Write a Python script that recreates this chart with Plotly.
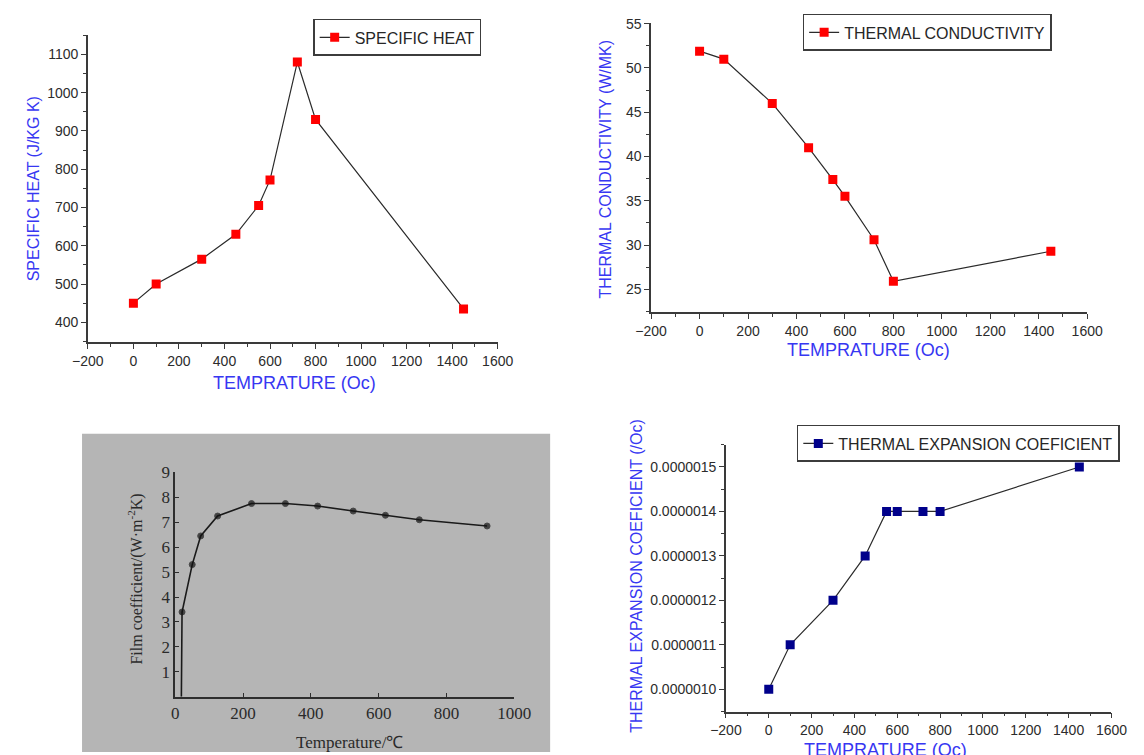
import plotly.graph_objects as go

W, H = 1144, 755

# Specific heat (J/kg K) against temperature (°C)
sh_temp = [0, 100, 300, 450, 550, 600, 720, 800, 1450]
sh_value = [450, 500, 565, 630, 705, 772, 1080, 930, 435]

# Thermal conductivity (W/mK) against temperature (°C)
tc_temp = [0, 100, 300, 450, 550, 600, 720, 800, 1450]
tc_value = [51.9, 51.0, 46.0, 41.0, 37.4, 35.5, 30.6, 25.9, 29.3]

# Film coefficient (W·m-2K) against temperature (°C); first point is the curve foot
fc_temp = [18, 20, 50, 75, 125, 225, 325, 420, 525, 620, 720, 920]
fc_value = [0, 3.4, 5.3, 6.45, 7.25, 7.75, 7.75, 7.65, 7.45, 7.28, 7.1, 6.85]

# Thermal expansion coefficient (/°C) against temperature (°C)
te_temp = [0, 100, 300, 450, 550, 600, 720, 800, 1450]
te_value = [1.0e-6, 1.1e-6, 1.2e-6, 1.3e-6, 1.4e-6, 1.4e-6, 1.4e-6, 1.4e-6, 1.5e-6]

# Tick values and labels
temp_ticks = [-200, 0, 200, 400, 600, 800, 1000, 1200, 1400, 1600]
sh_ticks = [400, 500, 600, 700, 800, 900, 1000, 1100]
tc_ticks = [25, 30, 35, 40, 45, 50, 55]
te_ticks = [1.0e-6, 1.1e-6, 1.2e-6, 1.3e-6, 1.4e-6, 1.5e-6]
te_ticktext = ["0.0000010", "0.0000011", "0.0000012", "0.0000013", "0.0000014", "0.0000015"]
fc_x_ticks = [0, 200, 400, 600, 800, 1000]
fc_y_ticks = [1, 2, 3, 4, 5, 6, 7, 8, 9]

SANS = "Liberation Sans, Arial, sans-serif"
SERIF = "Liberation Serif, Times New Roman, serif"
BLUE = "#3737f2"
AXIS = "#3a3a3a"
TICKTXT = "#2c2c2c"


def px(x):
    return x / W


def py(y):
    return 1 - y / H


fig = go.Figure()

fig.add_trace(go.Scatter(
    x=sh_temp, y=sh_value, mode="lines+markers", name="SPECIFIC HEAT",
    line=dict(color="#2b2b2b", width=1.2),
    marker=dict(symbol="square", size=9, color="#ff0000"),
    xaxis="x", yaxis="y", legend="legend"))

fig.add_trace(go.Scatter(
    x=tc_temp, y=tc_value, mode="lines+markers", name="THERMAL CONDUCTIVITY",
    line=dict(color="#2b2b2b", width=1.2),
    marker=dict(symbol="square", size=9, color="#ff0000"),
    xaxis="x2", yaxis="y2", legend="legend2"))

fig.add_trace(go.Scatter(
    x=fc_temp, y=fc_value, mode="lines+markers", name="Film coefficient",
    line=dict(color="#1a1a1a", width=1.6),
    marker=dict(symbol="circle", size=[0] + [6] * (len(fc_temp) - 1), color="#111111"),
    xaxis="x3", yaxis="y3", showlegend=False))

fig.add_trace(go.Scatter(
    x=te_temp, y=te_value, mode="lines+markers", name="THERMAL EXPANSION COEFICIENT",
    line=dict(color="#2b2b2b", width=1.2),
    marker=dict(symbol="square", size=9, color="#00008b"),
    xaxis="x4", yaxis="y4", legend="legend3"))


def origin_axis(domain, rng, tickvals, minor_dtick, anchor, ticktext=None):
    ax = dict(
        domain=domain, range=rng, anchor=anchor,
        tickmode="array", tickvals=tickvals,
        showline=True, linecolor=AXIS, linewidth=1.5,
        ticks="outside", ticklen=5, tickwidth=1.3, tickcolor=AXIS,
        minor=dict(ticks="outside", ticklen=3, tickwidth=1.1, tickcolor=AXIS,
                   dtick=minor_dtick, tick0=0, showgrid=False),
        showgrid=False, zeroline=False,
        tickfont=dict(family=SANS, size=14, color=TICKTXT),
    )
    if ticktext is not None:
        ax["ticktext"] = ticktext
    return ax


def film_axis(domain, rng, tickvals, anchor):
    return dict(
        domain=domain, range=rng, anchor=anchor,
        tickmode="array", tickvals=tickvals,
        showline=True, linecolor="#2e2e2e", linewidth=1.6,
        ticks="inside", ticklen=4, tickwidth=1.3, tickcolor="#2e2e2e",
        showgrid=False, zeroline=False,
        tickfont=dict(family=SERIF, size=17, color="#2a2a2a"),
    )


layout_axes = dict(
    xaxis=origin_axis([px(74), px(496)], [-200, 1600], temp_ticks, 100, "y"),
    yaxis=origin_axis([py(337), py(26)], [348.5, 1151.5], sh_ticks, 50, "x"),
    xaxis2=origin_axis([px(654), px(1103)], [-200, 1600], temp_ticks, 100, "y2"),
    yaxis2=origin_axis([py(307), py(14)], [22.4, 55.1], tc_ticks, 2.5, "x2"),
    xaxis3=film_axis([px(164), px(513)], [0, 1000], fc_x_ticks, "y3"),
    yaxis3=film_axis([py(696), py(469)], [0, 9], fc_y_ticks, "x3"),
    xaxis4=origin_axis([px(731), px(1128)], [-200, 1600], temp_ticks, 100, "y4"),
    yaxis4=origin_axis([py(711), py(441)], [0.95e-6, 1.55e-6], te_ticks, 0.5e-7, "x4",
                       ticktext=te_ticktext),
)


def legend_box(x, y, size=16):
    return dict(
        x=px(x), y=py(y), xanchor="left", yanchor="top",
        bgcolor="white", bordercolor="#3c3c3c", borderwidth=1.5,
        font=dict(family=SANS, size=size, color="#262626"),
    )


annotations = []


def title(text, x, y, angle=0, family=SANS, size=17, color=BLUE):
    annotations.append(dict(
        text=text, x=px(x), y=py(y), xref="paper", yref="paper",
        xanchor="center", yanchor="middle", showarrow=False, textangle=angle,
        font=dict(family=family, size=size, color=color)))


title("TEMPRATURE (Oc)", 287, 379, size=18)
title("SPECIFIC HEAT (J/KG K)", 18, 182, angle=-90, size=16)
title("TEMPRATURE (Oc)", 878, 345, size=18)
title("THERMAL CONDUCTIVITY (W/MK)", 607, 162, angle=-90, size=16)
title("TEMPRATURE (Oc)", 895, 750, size=18)
title("THERMAL EXPANSION COEFICIENT (/Oc)", 639, 574, angle=-90, size=16)
title("Temperature/℃", 343, 742, family=SERIF, size=17, color="#2a2a2a")
title("Film coefficient/(W·m<sup>-2</sup>K)", 123, 577, angle=-90, family=SERIF,
      size=16, color="#2a2a2a")

fig.update_layout(
    width=W, height=H,
    margin=dict(l=0, r=0, t=0, b=0),
    paper_bgcolor="white", plot_bgcolor="rgba(0,0,0,0)",
    legend=legend_box(306, 10),
    legend2=legend_box(810, 5),
    legend3=legend_box(804, 421),
    annotations=annotations,
    shapes=[dict(type="rect", xref="paper", yref="paper",
                 x0=px(68), x1=px(550), y0=py(752), y1=py(430),
                 fillcolor="#b5b5b5", line=dict(width=0), layer="below")],
    **layout_axes,
)

fig.write_html("out.html")
